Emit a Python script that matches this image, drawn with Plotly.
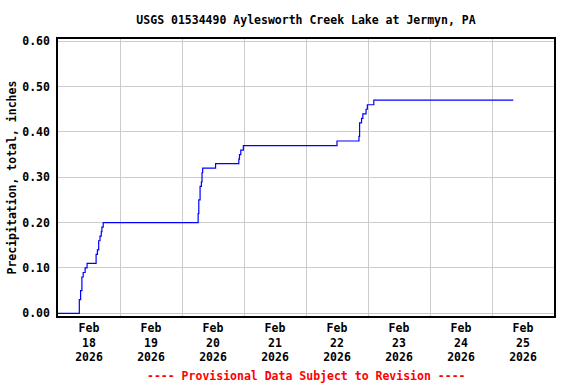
import plotly.graph_objects as go

# ---- data ----
times = [
    "2026-02-18 00:00", "2026-02-18 08:15", "2026-02-18 08:45", "2026-02-18 09:15",
    "2026-02-18 09:45", "2026-02-18 10:30", "2026-02-18 11:15", "2026-02-18 14:45",
    "2026-02-18 15:15", "2026-02-18 15:45", "2026-02-18 16:15", "2026-02-18 16:45",
    "2026-02-18 17:00", "2026-02-18 17:30", "2026-02-20 06:15", "2026-02-20 06:30",
    "2026-02-20 07:00", "2026-02-20 07:30", "2026-02-20 07:45", "2026-02-20 08:00",
    "2026-02-20 13:00", "2026-02-20 22:00", "2026-02-20 22:15", "2026-02-20 22:45",
    "2026-02-20 23:45", "2026-02-22 12:00", "2026-02-22 20:30", "2026-02-22 20:45",
    "2026-02-22 21:30", "2026-02-22 22:00", "2026-02-22 23:15", "2026-02-22 23:45",
    "2026-02-23 02:15", "2026-02-25 08:15",
]
precip = [
    0.00, 0.03, 0.05, 0.08,
    0.09, 0.10, 0.11, 0.13,
    0.14, 0.16, 0.17, 0.18,
    0.19, 0.20, 0.22, 0.25,
    0.28, 0.29, 0.31, 0.32,
    0.33, 0.34, 0.35, 0.36,
    0.37, 0.38, 0.39, 0.42,
    0.43, 0.44, 0.45, 0.46,
    0.47, 0.47,
]
tick_vals = ["2026-02-18 12:00", "2026-02-19 12:00", "2026-02-20 12:00", "2026-02-21 12:00",
             "2026-02-22 12:00", "2026-02-23 12:00", "2026-02-24 12:00", "2026-02-25 12:00"]
tick_text = ["Feb<br>18<br>2026", "Feb<br>19<br>2026", "Feb<br>20<br>2026", "Feb<br>21<br>2026",
             "Feb<br>22<br>2026", "Feb<br>23<br>2026", "Feb<br>24<br>2026", "Feb<br>25<br>2026"]
y_ticks = [0.0, 0.1, 0.2, 0.3, 0.4, 0.5, 0.6]

title_text = "USGS 01534490 Aylesworth Creek Lake at Jermyn, PA"
y_title = "Precipitation, total, inches"
footer = "---- Provisional Data Subject to Revision ----"

FONT = "DejaVu Sans Mono"
FS = 11.5

W, H = 576, 384
ML, MR, MT, MB = 58, 22, 39, 68
PH = H - MT - MB
PW = W - ML - MR

fig = go.Figure()
fig.add_trace(go.Scatter(
    x=times, y=precip, mode="lines", line=dict(color="#0000ff", width=1.2, shape="hv"),
    showlegend=False, hoverinfo="skip",
))

fig.update_layout(
    width=W, height=H,
    margin=dict(l=ML, r=MR, t=MT, b=MB, autoexpand=False),
    paper_bgcolor="white", plot_bgcolor="white",
    font=dict(family=FONT, size=FS, color="black"),
    title=dict(text="<b>" + title_text + "</b>", x=0.5, xref="paper", xanchor="center",
               y=1 - 20 / H, yanchor="middle", font=dict(family=FONT, size=FS, color="black")),
    annotations=[
        dict(text="<b>" + footer + "</b>", xref="paper", yref="paper", x=0.5,
             y=-(376 - (H - MB)) / PH, xanchor="center", yanchor="middle",
             showarrow=False, font=dict(family=FONT, size=FS, color="red")),
        dict(text="<b>" + y_title + "</b>", xref="paper", yref="paper", x=(11 - ML) / PW,
             y=0.5, xanchor="center", yanchor="middle", textangle=-90,
             showarrow=False, font=dict(family=FONT, size=FS, color="black")),
    ],
)

fig.update_xaxes(
    range=["2026-02-18 00:00", "2026-02-26 00:00"], automargin=False,
    tickmode="array", tickvals=tick_vals,
    ticktext=["<b>" + t.replace("<br>", "</b><br><b>") + "</b>" for t in tick_text],
    showgrid=False, ticks="",
    minor=dict(tick0="2026-02-18", dtick=86400000, showgrid=True, gridcolor="#cccccc", gridwidth=1, ticks=""),
    showline=True, linecolor="black", linewidth=1.5, mirror=True,
    tickfont=dict(family=FONT, size=FS, color="black"), zeroline=False,
)
fig.update_yaxes(
    range=[-0.006, 0.605], automargin=False,
    tickmode="array", tickvals=y_ticks, ticktext=["<b>%.2f</b>" % v for v in y_ticks],
    showgrid=True, gridcolor="#cccccc", gridwidth=1, ticks="", ticklabelstandoff=4,
    showline=True, linecolor="black", linewidth=1.5, mirror=True, zeroline=False,
    tickfont=dict(family=FONT, size=FS, color="black"),
)

fig.write_html("out.html", config={"displayModeBar": False},
               post_script="document.body.style.margin='0';")
